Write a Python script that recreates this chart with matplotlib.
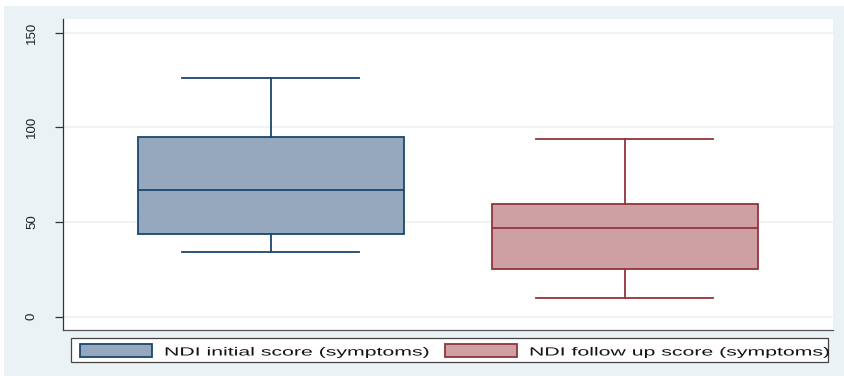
import matplotlib
matplotlib.use("Agg")
import matplotlib.pyplot as plt
from matplotlib.patches import Rectangle
from matplotlib.patheffects import AbstractPathEffect
from matplotlib.transforms import Affine2D

# NDI scores: box plot summary statistics
groups = ["NDI initial score (symptoms)", "NDI follow up score (symptoms)"]
whisker_low = [34, 10]
q1 = [43.5, 25.3]
median = [67, 47]
q3 = [95, 59.7]
whisker_high = [126, 94]

yticks = [0, 50, 100, 150]

edge_colors = ["#1A476F", "#90353B"]
fill_colors = ["#96A8BE", "#CEA0A3"]
region_color = "#EBF2F5"
grid_color = "#EDF2F5"


class StretchX(AbstractPathEffect):
    """Widen glyphs horizontally about the text's left anchor."""

    def __init__(self, sx):
        super().__init__()
        self.sx = sx

    def draw_path(self, renderer, gc, tpath, affine, rgbFace=None):
        x0 = affine.get_matrix()[0, 2]
        aff = affine + Affine2D().translate(-x0, 0).scale(self.sx, 1).translate(x0, 0)
        renderer.draw_path(gc, tpath, aff, rgbFace)


W, H = 845, 376
fig = plt.figure(figsize=(W / 100, H / 100), dpi=100)
fig.patch.set_facecolor("white")


def fpx(x, y):
    # pixel position (from top-left) -> figure fraction
    return x / W, 1 - y / H


fig.patches.append(Rectangle(fpx(4, 376), 1 - 4 / W, 1 - 6 / H, transform=fig.transFigure,
                             facecolor=region_color, edgecolor="none", zorder=-10))

ax = fig.add_axes([63 / W, 1 - 330 / H, (833 - 63) / W, (330 - 19) / H])
ax.set_facecolor("white")

stats = []
for i, g in enumerate(groups):
    stats.append({"label": g, "whislo": whisker_low[i], "q1": q1[i], "med": median[i],
                  "q3": q3[i], "whishi": whisker_high[i], "fliers": []})

for i, s in enumerate(stats):
    c = edge_colors[i]
    ax.bxp([s], positions=[i + 1], widths=0.75, capwidths=0.5, patch_artist=True,
           showfliers=False, manage_ticks=False,
           boxprops=dict(facecolor=fill_colors[i], edgecolor=c, linewidth=1.3),
           medianprops=dict(color=c, linewidth=1.3),
           whiskerprops=dict(color=c, linewidth=1.3),
           capprops=dict(color=c, linewidth=1.3))

ax.set_xlim(0.413, 2.588)
ax.set_ylim(-7.0, 157.2)
ax.set_yticks(yticks)
ax.set_yticklabels([str(t) for t in yticks], rotation=90, va="center",
                   fontsize=9.5, family="Liberation Sans", color="#222222")
ax.tick_params(axis="y", length=6, width=0.9, color="#333333", pad=12)
ax.set_xticks([])
ax.grid(axis="y", color=grid_color, linewidth=1.3, zorder=0)
ax.set_axisbelow(True)
for side in ["top", "right"]:
    ax.spines[side].set_visible(False)
ax.spines["left"].set_color("#333333")
ax.spines["bottom"].set_color("#555555")
ax.spines["left"].set_linewidth(0.9)
ax.spines["bottom"].set_linewidth(0.9)

# legend row below the plot: frame, swatches and labels
fig.patches.append(Rectangle(fpx(71, 362), 757 / W, 24 / H, transform=fig.transFigure,
                             facecolor="white", edgecolor="#444444", linewidth=0.9))
key_x = [80, 445]
for i, g in enumerate(groups):
    fig.patches.append(Rectangle(fpx(key_x[i], 356.7), 72 / W, 12.3 / H,
                                 transform=fig.transFigure, facecolor=fill_colors[i],
                                 edgecolor=edge_colors[i], linewidth=1.3))
    fig.text(*fpx(key_x[i] + 84, 355.5), g, ha="left", va="baseline",
             fontsize=8.5, family="Liberation Sans", color="#111111",
             path_effects=[StretchX(1.8)])

fig.savefig("out.png", dpi=100)
